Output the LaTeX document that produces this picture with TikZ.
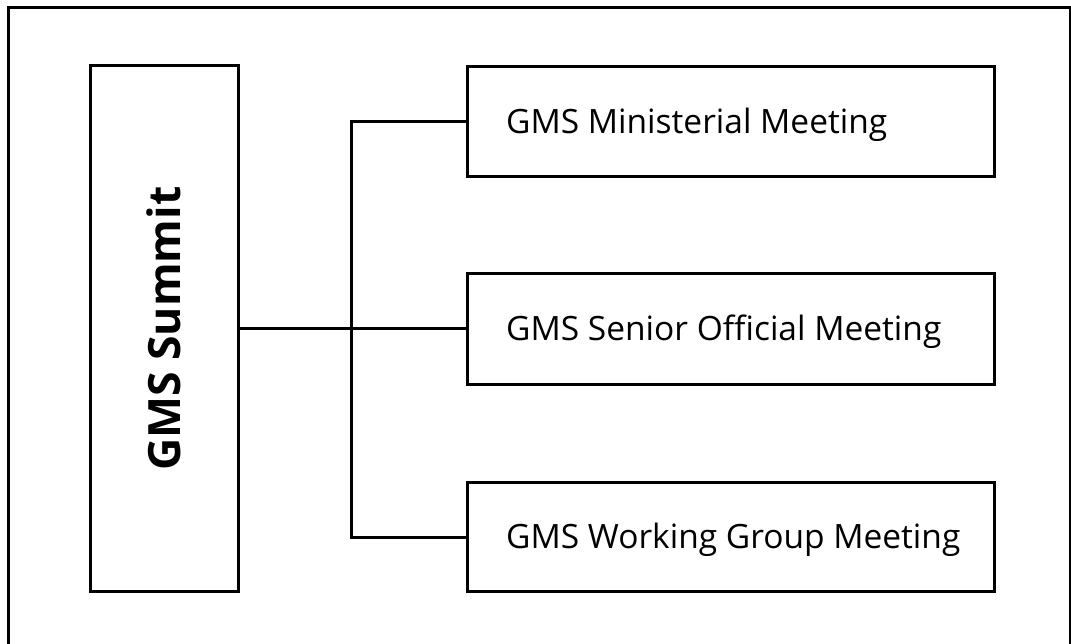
\documentclass[tikz,border=0pt]{standalone}
\usepackage{fontspec}
\setmainfont{Open Sans}
\begin{document}
\begin{tikzpicture}[x=1pt,y=-1pt,
  frame/.style={draw, line width=3pt},
  box/.style={draw, line width=3pt, rectangle, inner sep=0pt, anchor=north west},
  conn/.style={draw, line width=3pt},
  lbl/.style={anchor=west, inner sep=0pt, font=\fontsize{33.5}{39}\selectfont},
  title/.style={rotate=90, inner sep=0pt, font=\fontsize{44.5}{52}\selectfont\bfseries}]
\useasboundingbox (0,0) rectangle (1071,644);
\begin{scope}
\clip (0,0) rectangle (1071,644);
\draw[frame] (8.5,7.5) rectangle (1070.5,670);
\end{scope}
\node[box, minimum width=148.5pt, minimum height=525.5pt] (summit) at (88.5,64.5) {};
\node[title] (summitlbl) at (summit.center) {GMS Summit};
\node[box, minimum width=527pt, minimum height=110pt] (m1) at (466,65) {};
\node[box, minimum width=527pt, minimum height=110pt] (m2) at (466,272.5) {};
\node[box, minimum width=527pt, minimum height=109pt] (m3) at (466,481) {};
\node[lbl] (t1) at ([xshift=40pt,yshift=-3pt]m1.west) {GMS Ministerial Meeting};
\node[lbl] (t2) at ([xshift=40pt,yshift=-3pt]m2.west) {GMS Senior Official Meeting};
\node[lbl] (t3) at ([xshift=40pt,yshift=-3pt]m3.west) {GMS Working Group Meeting};
\coordinate (bus) at (351.5,0);
\draw[conn] (m1.west) -| (bus |- m1.west) |- (m3.west);
\draw[conn] (summit.east) -- (summit.east -| m2.west);
\end{tikzpicture}
\end{document}
